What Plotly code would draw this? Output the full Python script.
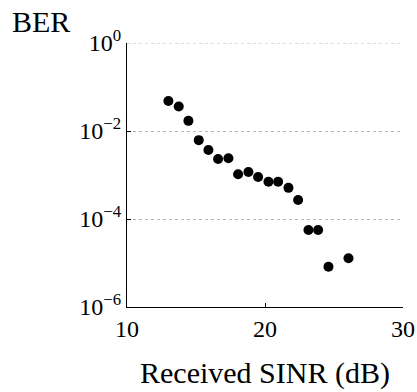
import plotly.graph_objects as go

# Measured bit error rate versus received SINR
sinr_db = [13.0, 13.75, 14.45, 15.2, 15.9, 16.6, 17.35, 18.05, 18.8, 19.5,
           20.25, 20.95, 21.7, 22.4, 23.15, 23.85, 24.6, 26.05]
ber = [4.8e-2, 3.6e-2, 1.7e-2, 6.2e-3, 3.7e-3, 2.3e-3, 2.4e-3, 1.04e-3, 1.17e-3,
       9.0e-4, 7.0e-4, 7.0e-4, 5.1e-4, 2.7e-4, 5.6e-5, 5.6e-5, 8.2e-6, 1.28e-5]

y_tickvals = [1, 1e-2, 1e-4, 1e-6]
y_ticktext = ["10<sup>0</sup>", "10<sup>−2</sup>", "10<sup>−4</sup>", "10<sup>−6</sup>"]
x_tickvals = [10, 20, 30]
x_range = [10, 30]

serif = "Liberation Serif"

fig = go.Figure(
    go.Scatter(
        x=sinr_db, y=ber, mode="markers",
        marker=dict(color="black", size=10, line=dict(width=0)),
        showlegend=False,
    )
)

# dotted reference line at the top decade (the axis edge hides its gridline)
fig.add_shape(type="line", xref="x", yref="y",
              x0=x_range[0], x1=x_range[1], y0=y_tickvals[0], y1=y_tickvals[0],
              line=dict(color="#b8b8b8", width=1, dash="dot"), layer="below")

fig.update_layout(
    width=417, height=392,
    margin=dict(l=127, r=14, t=43, b=85),
    paper_bgcolor="white", plot_bgcolor="white",
    font=dict(family=serif, color="black", size=24),
    xaxis=dict(
        range=x_range, tickvals=x_tickvals, automargin=False,
        showline=True, linecolor="black", linewidth=1, mirror=False,
        ticks="inside", ticklen=4, tickcolor="black",
        showgrid=False, zeroline=False,
        tickfont=dict(size=24),
    ),
    yaxis=dict(
        type="log", range=[-6, 0], automargin=False,
        tickvals=y_tickvals, ticktext=y_ticktext,
        showline=True, linecolor="black", linewidth=1, mirror=False,
        ticks="inside", ticklen=4, tickcolor="black",
        showgrid=True, gridcolor="#b8b8b8", griddash="dot", gridwidth=1,
        zeroline=False,
        tickfont=dict(size=24),
    ),
    annotations=[
        dict(text="BER", xref="paper", yref="paper", x=-0.312, y=1.08,
             xanchor="center", yanchor="middle", showarrow=False,
             font=dict(size=30, family=serif)),
        dict(text="Received SINR (dB)", xref="paper", yref="paper", x=0.5, y=-0.25,
             xanchor="center", yanchor="middle", showarrow=False,
             font=dict(size=30, family=serif)),
    ],
)

fig.write_html("out.html")
